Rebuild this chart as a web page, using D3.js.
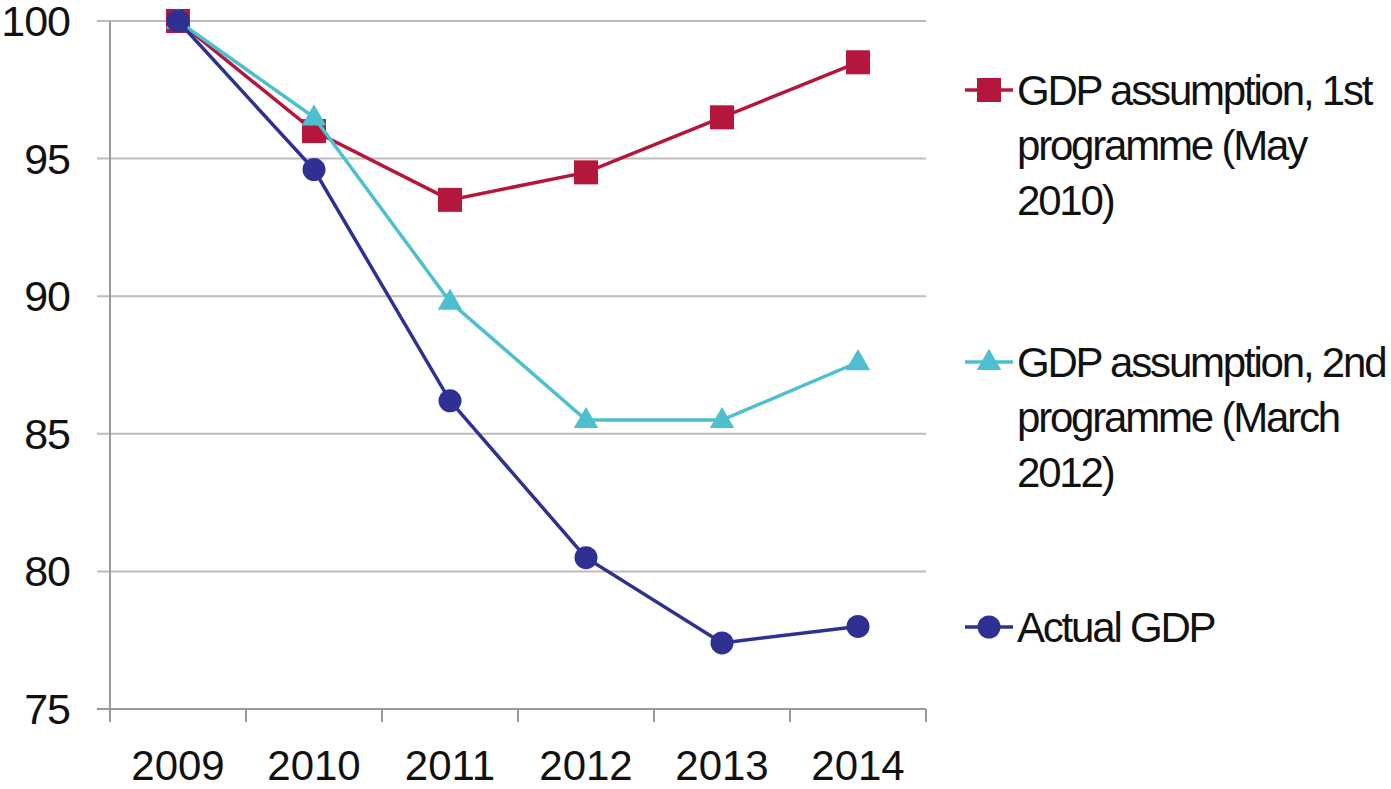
<!DOCTYPE html>
<html>
<head>
<meta charset="utf-8">
<script src="https://cdn.jsdelivr.net/npm/d3@7"></script>
<style>
body { margin: 0; background: #fff; }
text { font-family: "Liberation Sans", Arial, sans-serif; fill: #111; }
</style>
</head>
<body>
<svg id="chart" width="1391" height="789"></svg>
<script>
var years = ["2009", "2010", "2011", "2012", "2013", "2014"];
var firstProg = [100, 96, 93.5, 94.5, 96.5, 98.5];
var secondProg = [100, 96.5, 89.8, 85.5, 85.5, 87.6];
var actualGdp = [100, 94.6, 86.2, 80.5, 77.4, 78];
var yTicks = [75, 80, 85, 90, 95, 100];

var series = [
	{ name: ["GDP assumption, 1st", "programme (May", "2010)"], vals: firstProg, colour: "#b5173c", shape: "square", ly: 90 },
	{ name: ["GDP assumption, 2nd", "programme (March", "2012)"], vals: secondProg, colour: "#4dbfcf", shape: "triangle", ly: 362 },
	{ name: ["Actual GDP"], vals: actualGdp, colour: "#2e3192", shape: "circle", ly: 627 }
];

var svg = d3.select("#chart");

var plotL = 110, plotR = 926, plotT = 21, plotB = 709;

var x = d3.scaleBand().domain(years).range([plotL, plotR]);
var y = d3.scaleLinear().domain([75, 100]).range([plotB, plotT]);

// gridlines
svg.append("g").selectAll("line").data(yTicks).enter()
	.append("line")
	.attr("x1", plotL - 13).attr("x2", plotR)
	.attr("y1", function(d){ return y(d); }).attr("y2", function(d){ return y(d); })
	.attr("stroke", "#bdbdbd").attr("stroke-width", 2);

// y axis line
svg.append("line")
	.attr("x1", plotL).attr("x2", plotL).attr("y1", plotT).attr("y2", plotB)
	.attr("stroke", "#9a9a9a").attr("stroke-width", 2);

// x axis
var xAxis = svg.append("g")
	.attr("transform", "translate(0," + plotB + ")")
	.call(d3.axisBottom(x).tickSize(0).tickPadding(0));
xAxis.select(".domain").remove();
xAxis.selectAll("text")
	.attr("y", 71)
	.attr("dy", 0)
	.style("font-size", "42px")
	.style("font-family", "Liberation Sans, Arial, sans-serif")
	.attr("fill", "#111");
svg.append("line")
	.attr("x1", plotL - 13).attr("x2", plotR).attr("y1", plotB).attr("y2", plotB)
	.attr("stroke", "#9a9a9a").attr("stroke-width", 2);
svg.append("g").selectAll("line").data(d3.range(years.length + 1)).enter()
	.append("line")
	.attr("x1", function(d){ return plotL + d * x.step(); })
	.attr("x2", function(d){ return plotL + d * x.step(); })
	.attr("y1", plotB).attr("y2", plotB + 13)
	.attr("stroke", "#9a9a9a").attr("stroke-width", 2);

// y labels
svg.append("g").selectAll("text").data(yTicks).enter()
	.append("text")
	.attr("x", 70)
	.attr("y", function(d){ return y(d) + 15; })
	.attr("text-anchor", "end")
	.style("font-size", "43px")
	.style("letter-spacing", "-1px")
	.text(function(d){ return d; });

var line = d3.line()
	.x(function(d, i){ return x(years[i]) + x.bandwidth() / 2; })
	.y(function(d){ return y(d); });

function drawMarker(g, shape, colour, cx, cy) {
	if (shape == "square") {
		g.append("rect").attr("x", cx - 12).attr("y", cy - 12)
			.attr("width", 24).attr("height", 24).attr("fill", colour);
	} else if (shape == "triangle") {
		g.append("path")
			.attr("d", d3.symbol().type(d3.symbolTriangle).size(260)())
			.attr("transform", "translate(" + cx + "," + (cy + 1) + ")")
			.attr("fill", colour);
	} else {
		g.append("circle").attr("cx", cx).attr("cy", cy).attr("r", 11.5).attr("fill", colour);
	}
}

series.forEach(function(s) {
	var g = svg.append("g");
	g.append("path")
		.datum(s.vals)
		.attr("d", line)
		.attr("fill", "none")
		.attr("stroke", s.colour)
		.attr("stroke-width", 3.5);
	s.vals.forEach(function(v, i) {
		drawMarker(g, s.shape, s.colour, x(years[i]) + x.bandwidth() / 2, y(v));
	});

	// legend
	var lg = svg.append("g");
	lg.append("line")
		.attr("x1", 965).attr("x2", 1013).attr("y1", s.ly).attr("y2", s.ly)
		.attr("stroke", s.colour).attr("stroke-width", 3.5);
	drawMarker(lg, s.shape, s.colour, 989, s.ly);
	lg.selectAll("text").data(s.name).enter()
		.append("text")
		.attr("x", 1017)
		.attr("y", function(d, i){ return s.ly + 15 + i * 55; })
		.style("font-size", "42px")
		.style("letter-spacing", "-2.2px")
		.text(function(d){ return d; });
});
</script>
</body>
</html>
